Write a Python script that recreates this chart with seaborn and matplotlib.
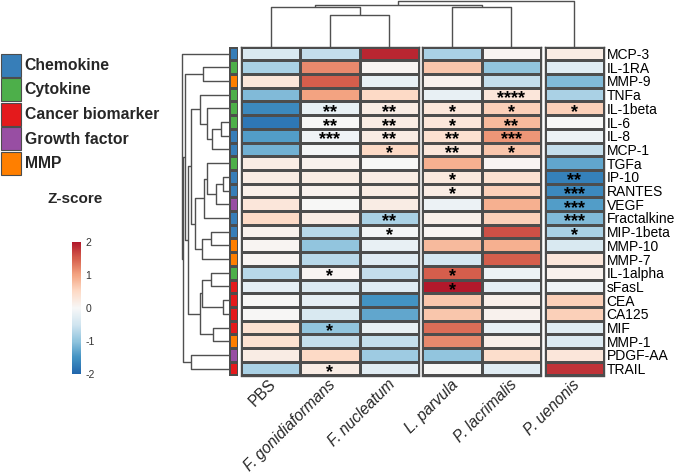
import numpy as np
import pandas as pd
import seaborn as sns
import matplotlib.pyplot as plt
from matplotlib.colors import LinearSegmentedColormap, ListedColormap
from matplotlib.patches import Rectangle

analytes = ['MCP-3', 'IL-1RA', 'MMP-9', 'TNFa', 'IL-1beta', 'IL-6', 'IL-8', 'MCP-1',
            'TGFa', 'IP-10', 'RANTES', 'VEGF', 'Fractalkine', 'MIP-1beta', 'MMP-10',
            'MMP-7', 'IL-1alpha', 'sFasL', 'CEA', 'CA125', 'MIF', 'MMP-1', 'PDGF-AA', 'TRAIL']
samples = ['PBS', 'F. gonidiaformans', 'F. nucleatum', 'L. parvula', 'P. lacrimalis', 'P. uenonis']

# z-scores, one list per sample (row order = analytes)
pbs = [-0.4, -0.8, 0.3, -1.1, -1.6, -1.8, -1.4, -1.2, 0.2, 0.2, 0.15, 0.3,
       0.5, 0.1, 0.05, 0.05, -0.7, -0.25, 0.02, 0.02, 0.4, 0.4, 0.2, -0.8]
f_gon = [-0.6, 1.2, 1.5, 1.0, -0.2, 0.0, -0.1, -0.05, 0.1, 0.2, 0.1, 0.0,
         0.2, -0.7, -1.0, -0.7, 0.05, -0.35, -0.25, -0.4, -1.0, -0.6, 0.5, 0.2]
f_nuc = [1.9, 0.05, -0.2, 0.5, 0.2, 0.2, 0.2, 0.5, 0.0, 0.2, 0.2, 0.2,
         -0.8, -0.05, -0.2, -0.3, -0.6, -0.3, -1.5, -1.3, -0.2, -0.6, -0.9, -0.3]
l_par = [-0.8, 0.7, 0.1, -0.2, 0.3, 0.3, 0.4, 0.3, 0.9, 0.25, 0.2, -0.15,
         0.15, 0.05, 0.8, -0.45, 1.5, 2.0, 0.7, 0.7, 1.4, 1.2, -1.0, 0.0]
p_lac = [0.05, -1.0, -0.6, 0.3, 0.6, 0.8, 1.1, 0.7, 0.05, 0.4, 0.6, 0.9,
         0.6, 1.6, 0.9, 1.5, -0.15, -0.25, 0.15, 0.1, -0.2, 0.15, 0.45, -0.3]
p_uen = [0.2, -0.3, -1.1, -0.8, 0.6, 0.0, -0.15, -0.6, -1.3, -1.7, -1.6, -1.4,
         -1.1, -0.8, -0.4, 0.3, 0.1, -0.1, 0.6, 0.6, -0.3, -0.35, 0.3, 1.8]

# significance stars
pbs_sig = {}
f_gon_sig = {'IL-1beta': '**', 'IL-6': '**', 'IL-8': '***', 'IL-1alpha': '*', 'MIF': '*', 'TRAIL': '*'}
f_nuc_sig = {'IL-1beta': '**', 'IL-6': '**', 'IL-8': '**', 'MCP-1': '*', 'Fractalkine': '**', 'MIP-1beta': '*'}
l_par_sig = {'IL-1beta': '*', 'IL-6': '*', 'IL-8': '**', 'MCP-1': '**', 'IP-10': '*', 'RANTES': '*',
             'IL-1alpha': '*', 'sFasL': '*'}
p_lac_sig = {'TNFa': '****', 'IL-1beta': '*', 'IL-6': '**', 'IL-8': '***', 'MCP-1': '*'}
p_uen_sig = {'IL-1beta': '*', 'IP-10': '**', 'RANTES': '***', 'VEGF': '***', 'Fractalkine': '***',
             'MIP-1beta': '*'}

categories = ['Chemokine', 'Cytokine', 'Cancer biomarker', 'Growth factor', 'MMP']
analyte_type = ['Chemokine', 'Cytokine', 'MMP', 'Cytokine', 'Cytokine', 'Cytokine', 'Chemokine',
                'Chemokine', 'Cytokine', 'Chemokine', 'Chemokine', 'Growth factor', 'Chemokine',
                'Chemokine', 'MMP', 'MMP', 'Cytokine', 'Cancer biomarker', 'Cancer biomarker',
                'Cancer biomarker', 'Cancer biomarker', 'MMP', 'Growth factor', 'Cancer biomarker']
cat_colors = ['#377EB8', '#4DAF4A', '#E41A1C', '#984EA3', '#FF7F00']

# dendrograms: (left, right, height)
row_tree = ('MCP-3',
            ((('IL-1RA', 'MMP-9', 26),
              ((('TNFa', ('IL-1beta', (('IL-6', 'IL-8', 8), 'MCP-1', 17), 22), 29),
                ((('TGFa', (('IP-10', 'RANTES', 6), 'VEGF', 13), 22), 'Fractalkine', 25),
                 (('MIP-1beta', 'MMP-10', 18), 'MMP-7', 27), 34), 38.3),
               ((('IL-1alpha', 'sFasL', 18), ('CEA', 'CA125', 6), 27), ('MIF', 'MMP-1', 16), 29.3),
               41), 44),
             ('PDGF-AA', 'TRAIL', 38.3), 46),
            47.5)
col_tree = ((('PBS', ('F. gonidiaformans', 'F. nucleatum', 31.3), 38.7),
             ('L. parvula', 'P. lacrimalis', 39.3), 41),
            'P. uenonis', 45.3)
col_groups = [[0, 1, 2], [3, 4], [5]]

df = pd.DataFrame({'PBS': pbs, 'F. gonidiaformans': f_gon, 'F. nucleatum': f_nuc,
                   'L. parvula': l_par, 'P. lacrimalis': p_lac, 'P. uenonis': p_uen},
                  index=analytes)
sig = pd.DataFrame({'PBS': pbs_sig, 'F. gonidiaformans': f_gon_sig, 'F. nucleatum': f_nuc_sig,
                    'L. parvula': l_par_sig, 'P. lacrimalis': p_lac_sig, 'P. uenonis': p_uen_sig},
                   index=analytes, columns=samples).fillna('')

sns.set_style('white')
plt.rcParams['font.family'] = ['Liberation Sans', 'DejaVu Sans']

W, H = 674, 476
fig = plt.figure(figsize=(W / 100, H / 100), dpi=100)


def px_axes(x0, y0, x1, y1):
    return fig.add_axes([x0 / W, 1 - y1 / H, (x1 - x0) / W, (y1 - y0) / H])


cmap = LinearSegmentedColormap.from_list('rdbu', ['#2166AC', '#4393C3', '#92C5DE', '#D1E5F0', '#F7F7F7',
                                                  '#FDDBC7', '#F4A582', '#D6604D', '#B2182B'])
edge = '#4d4d4d'

top, bottom = 46.7, 375.5
cw, gap, left = 59.3, 3.5, 241
col_x = []
x = left
heat_axes = []
cbar_ax = px_axes(72, 242, 81, 374)
for gi, grp in enumerate(col_groups):
    x0 = x
    x1 = x0 + cw * len(grp)
    ax = px_axes(x0, top, x1, bottom)
    cols = [samples[i] for i in grp]
    sns.heatmap(df[cols], ax=ax, cmap=cmap, vmin=-2, vmax=2, center=0,
                cbar=(gi == 0), cbar_ax=cbar_ax if gi == 0 else None,
                linewidths=0.8, linecolor=edge,
                annot=sig[cols].values, fmt='',
                annot_kws={'fontsize': 13, 'fontweight': 'bold', 'color': 'black'},
                xticklabels=False, yticklabels=(gi == len(col_groups) - 1))
    for t in ax.texts:
        px, py = t.get_position()
        t.set_position((px, py + 0.3))
    for s in ax.spines.values():
        s.set_visible(True)
        s.set_color(edge)
        s.set_linewidth(1.0)
    for k in range(len(grp)):
        col_x.append(x0 + cw * (k + 0.5))
    heat_axes.append(ax)
    x = x1 + gap

ax_last = heat_axes[-1]
ax_last.yaxis.tick_right()
ax_last.set_yticklabels(analytes, rotation=0, fontsize=10, color='black')
ax_last.tick_params(axis='y', length=0, pad=2)
ax_last.set_ylabel('')

cbar_ax.tick_params(labelsize=7.5, length=0, pad=3, colors='#333333')
cbar_ax.set_yticks([-2, -1, 0, 1, 2])
cbar_ax.set_yticklabels(['-2', '-1', '0', '1', '2'])
for s in cbar_ax.spines.values():
    s.set_visible(False)
fig.text(75 / W, 1 - 199 / H, 'Z-score', fontsize=11, fontweight='bold', ha='center', va='center')

# row annotation strip
ax_strip = px_axes(229, top, 237.5, bottom)
codes = np.array([categories.index(c) for c in analyte_type]).reshape(-1, 1)
sns.heatmap(codes, ax=ax_strip, cmap=ListedColormap(cat_colors), vmin=-0.5, vmax=4.5,
            cbar=False, linewidths=0.8, linecolor=edge, xticklabels=False, yticklabels=False)

# column labels
for name, cx in zip(samples, col_x):
    style = 'normal' if name == 'PBS' else 'italic'
    fig.text((cx - 2) / W, 1 - 377 / H, name, rotation=45, ha='right', va='top',
             rotation_mode='anchor', fontsize=11.2, fontstyle=style)

# overlay for dendrograms and legend, in pixel coordinates
ov = fig.add_axes([0, 0, 1, 1], zorder=-1)
ov.set_xlim(0, W)
ov.set_ylim(H, 0)
ov.axis('off')

row_h = (bottom - top) / len(analytes)
dcol = '#505050'


def draw_tree(node, leaf_pos, to_xy):
    if isinstance(node, str):
        return leaf_pos[node], 0.0
    lft, rgt, h = node
    p1, h1 = draw_tree(lft, leaf_pos, to_xy)
    p2, h2 = draw_tree(rgt, leaf_pos, to_xy)
    pts = [to_xy(p1, h1), to_xy(p1, h), to_xy(p2, h), to_xy(p2, h2)]
    ov.plot([p[0] for p in pts], [p[1] for p in pts], color=dcol, lw=1.0, solid_capstyle='butt')
    return (p1 + p2) / 2, h


row_pos = {a: top + row_h * (i + 0.5) for i, a in enumerate(analytes)}
rscale = (229 - 181.5) / row_tree[2]
draw_tree(row_tree, row_pos, lambda p, h: (229 - h * rscale, p))

col_pos = dict(zip(samples, col_x))
cscale = (top - 0.7) / col_tree[2]
draw_tree(col_tree, col_pos, lambda p, h: (p, top - h * cscale))

# category legend
for i, (cat, colr) in enumerate(zip(categories, cat_colors)):
    y0 = 53.5 + i * 24.6
    ov.add_patch(Rectangle((0.5, y0), 20.5, 23, facecolor=colr, edgecolor=edge, lw=0.8))
    ov.text(24.7, y0 + 11.8, cat, fontsize=11.3, fontweight='bold', va='center', ha='left')

fig.savefig('out.png', dpi=100)
